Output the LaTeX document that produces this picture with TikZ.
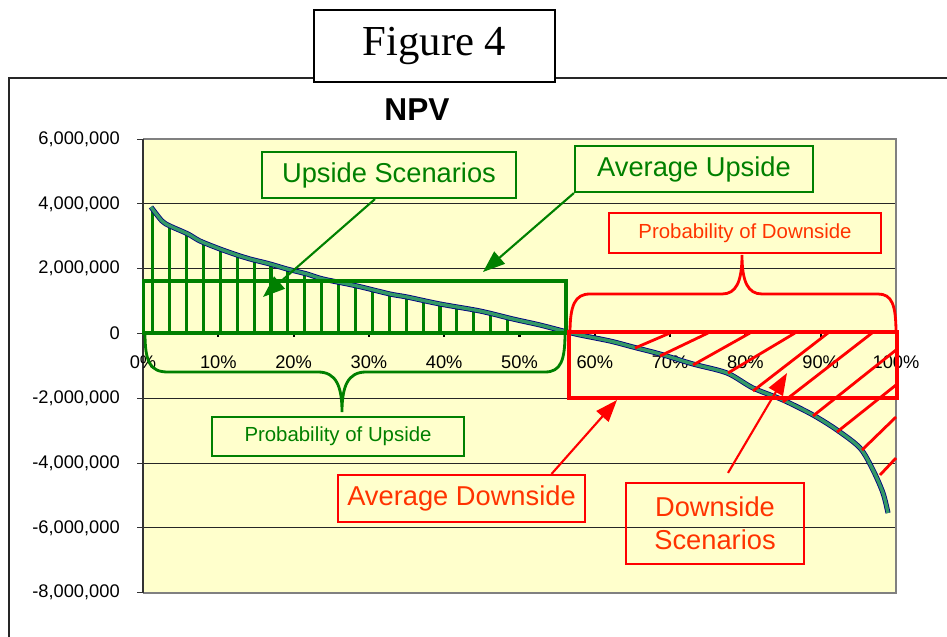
\documentclass[tikz,border=0pt]{standalone}
\usepackage{fontspec}
\setmainfont{Liberation Sans}
\newfontfamily\figfont{Liberation Serif}
\usetikzlibrary{arrows.meta,positioning}

\definecolor{plotbg}{HTML}{FFFFCC}
\definecolor{upgreen}{HTML}{008000}
\definecolor{downred}{HTML}{FF0000}
\definecolor{redtext}{HTML}{FF3300}
\definecolor{seagreen}{HTML}{339966}
\definecolor{curvenavy}{HTML}{000080}

\begin{document}
\begin{tikzpicture}[x=0.025cm, y=-0.025cm,
    gbox/.style={draw=upgreen, line width=1.5pt, text=upgreen, inner sep=0pt},
    rbox/.style={draw=downred, line width=1.5pt, text=redtext, inner sep=0pt},
    big/.style={font=\fontsize{19.4}{23.5}\selectfont},
    small/.style={font=\fontsize{14.5}{17}\selectfont},
    axislabel/.style={font=\fontsize{13}{15}\selectfont, inner sep=0pt},
    garrow/.style={-{Triangle[length=5.5mm,width=4mm]}, upgreen, line width=1.5pt},
    rarrow/.style={-{Triangle[length=5.5mm,width=4mm]}, downred, line width=1.5pt},
    hatch/.style={downred, line width=2pt},
    bar/.style={upgreen, line width=2.2pt}
]
    \useasboundingbox (0,0) rectangle (947,637);

    \draw[line width=0.75pt, gray!30!black] (9,637) -- (9,78) -- (947,78);
    \node[draw, line width=1.2pt, fill=white, minimum width=6.025cm, minimum height=1.8cm,
          font=\figfont\fontsize{30.4}{34}\selectfont] (figtitle) at (434.5,46) {Figure 4};
    \node[font=\bfseries\fontsize{22.5}{26}\selectfont] (npv) at (417,110) {NPV};

    \fill[plotbg] (143,139) rectangle (896,593);
    \foreach \v in {4,2,-2,-4,-6}
        \draw[black!85, line width=0.7pt] (143,{333.5-32.4*(\v)}) -- (896,{333.5-32.4*(\v)});
    \draw[gray, line width=1.2pt] (143,139) -- (896,139) -- (896,593) -- (143,593);
    \draw[gray!40!black, line width=1pt] (143,139) -- (143,593);
    \foreach \v/\lab in {6/{6,000,000},4/{4,000,000},2/{2,000,000},0/0,-2/{-2,000,000},-4/{-4,000,000},-6/{-6,000,000},-8/{-8,000,000}} {
        \draw[gray!40!black, line width=0.8pt] (137,{333.5-32.4*(\v)}) -- (143,{333.5-32.4*(\v)});
        \node[axislabel, anchor=east] (ylab\v) at (120,{333.5-32.4*(\v)}) {\lab};
    }
    \draw[black, line width=1.8pt] (143,333) -- (896,333);
    \foreach \p in {10,20,...,100}
        \draw[black, line width=1.5pt] ({143+7.53*\p},333) -- ++(0,4);
    \foreach \p in {0,10,...,100}
        \node[axislabel] (xlab\p) at ({143+7.53*\p},362) {\p\%};

    \foreach \x/\t in {152.7/209, 169.6/227, 186.5/234, 203.4/243, 220.3/250, 237.2/256, 254.1/261, 271/265,
                       287.9/270, 304.8/274, 321.7/280, 338.6/283, 355.5/287, 372.4/291, 389.3/295, 406.2/298,
                       423.1/301, 440/305, 456.9/308, 473.8/311, 490.7/315, 507.6/319}
        \draw[bar] (\x,333) -- (\x,\t);

    \draw[draw=curvenavy, double=seagreen, double distance=2.4pt, line width=0.6pt, line join=round]
        plot[smooth, tension=0.5] coordinates {(151,207) (162,221) (170,226) (188,234) (200,241) (220,249)
        (240,256) (250,259) (270,264) (287,269) (307,274) (323,279) (357,286) (390,294) (407,297) (440,304)
        (480,311) (513,319) (540,325) (567,332) (580,335) (610,341) (633,347) (660,354) (693,364) (727,373)
        (753,388) (783,400) (813,415) (837,430) (860,448) (873,470) (883,493) (888,513)};

    \foreach \a/\b/\c/\d in {635/348/670/333, 660/356/708/333, 693/365/750/333, 728/373/795/333,
                             753/391/828/333, 783/402/872/333, 813/416/896/350, 837/432/896/385,
                             862/450/896/417, 880/475/896/458}
        \draw[hatch] (\a,\b) -- (\c,\d);

    \draw[upgreen, line width=2.6pt] (143.5,281) rectangle (566,333);
    \draw[downred, line width=2.8pt] (569,332) rectangle (897,398);

    \draw[upgreen, line width=2pt] (145,333) .. controls (145,362) and (150,372) .. (168,372) -- (318,372)
        .. controls (336,372) and (342,386) .. (342,412) .. controls (342,386) and (348,372) .. (366,372)
        -- (545,372) .. controls (561,372) and (565,360) .. (565,333);
    \draw[downred, line width=2pt] (570,333) .. controls (570,305) and (575,294) .. (590,294) -- (722,294)
        .. controls (736,294) and (742,282) .. (742,255) .. controls (742,282) and (748,294) .. (762,294)
        -- (878,294) .. controls (892,294) and (896,305) .. (896,333);

    \node[gbox, big, minimum width=6.35cm, minimum height=1.15cm] (upsc) at (389,175) {Upside Scenarios};
    \node[gbox, big, minimum width=5.95cm, minimum height=1.15cm] (avup) at (694,169) {Average Upside};
    \node[gbox, small, minimum width=6.3cm, minimum height=0.975cm] (probup) at (338,436.5) {Probability of Upside};
    \node[rbox, small, minimum width=6.8cm, minimum height=1cm] (probdown) at (745,233) {Probability of Downside};
    \node[rbox, big, minimum width=6.175cm, minimum height=1.175cm] (avdown) at (461.5,498.5) {Average Downside};
    \node[rbox, big, minimum width=4.45cm, minimum height=2.025cm, align=center] (downsc) at (715,523.5) {Downside\\Scenarios};

    \coordinate (upsctip) at (263,297);
    \coordinate (avuptip) at (483,272);
    \coordinate (avdowntip) at (617,400);
    \coordinate (downsctip) at (787,373);
    \draw[garrow] ([xshift=-0.35cm]upsc.south) -- (upsctip);
    \draw[garrow] (avup.south west) -- (avuptip);
    \draw[rarrow] ([xshift=2.25cm]avdown.north) -- (avdowntip);
    \draw[rarrow] ([xshift=0.325cm,yshift=0.225cm]downsc.north) -- (downsctip);
\end{tikzpicture}
\end{document}
